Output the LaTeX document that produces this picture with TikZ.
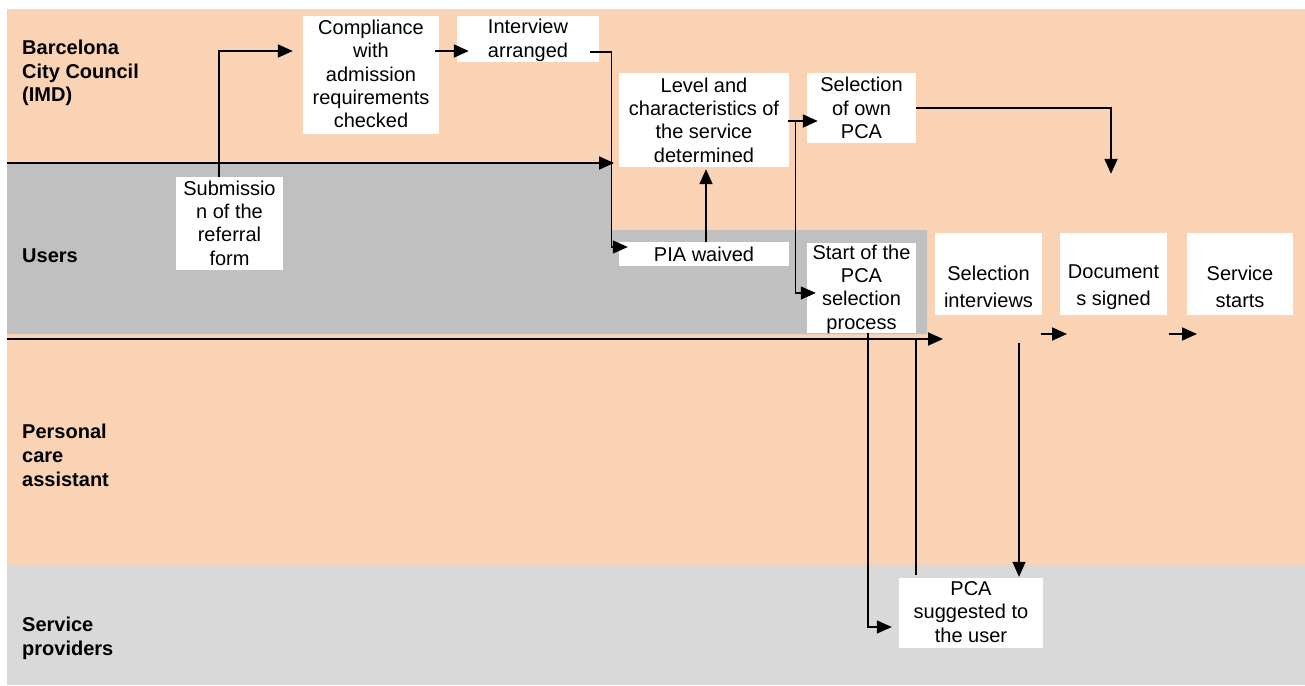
\documentclass[tikz,border=0pt]{standalone}
\usepackage{fontspec}
\setmainfont{Liberation Sans}
\usetikzlibrary{arrows.meta}
\definecolor{peach}{HTML}{FAD3B4}
\definecolor{usergrey}{HTML}{C0C0C0}
\definecolor{provgrey}{HTML}{D9D9D9}
\tikzset{
  box/.style={fill=white, draw=none, inner sep=0pt},
  txt/.style={align=center, inner sep=0pt, font=\fontsize{20}{23.4}\selectfont},
  txtwide/.style={align=center, inner sep=0pt, font=\fontsize{20}{27}\selectfont},
  lane/.style={align=left, anchor=west, inner sep=0pt, font=\bfseries\fontsize{20}{23.8}\selectfont},
  arr/.style={-{Triangle[length=15pt,width=13pt]}, line width=1.8pt},
  arrthin/.style={-{Triangle[length=15pt,width=13pt]}, line width=1.2pt},
  plain/.style={line width=1.2pt},
}
\begin{document}
\begin{tikzpicture}[x=1pt,y=-1pt]
\useasboundingbox (0,0) rectangle (1305,685);
\fill[white] (0,0) rectangle (1305,685);
% lanes
\fill[peach] (7,9) rectangle (1305,565);
\fill[usergrey] (7,163) -- (611,163) -- (611,230) -- (927,230) -- (927,334) -- (7,334) -- cycle;
\fill[provgrey] (7,565) rectangle (1305,685);
% lane labels
\node[lane] (lab1) at (22,73) {Barcelona\\City Council\\(IMD)};
\node[lane] (lab2) at (22,256) {Users};
\node[lane] (lab3) at (22,455.5) {Personal\\care\\assistant};
\node[lane] (lab4) at (22,638) {Service\\providers};
% boxes
\node[box, minimum width=136pt, minimum height=118pt] (comp) at (371,75) {};
\node[txt] at (371,74) {Compliance\\with\\admission\\requirements\\checked};
\node[box, minimum width=142pt, minimum height=46pt] (int) at (528,39) {};
\node[txt] at (528,40.5) {Interview\\arranged};
\node[box, minimum width=170pt, minimum height=94pt] (lvl) at (704,120) {};
\node[txt] at (704,120) {Level and\\characteristics of\\the service\\determined};
\node[box, minimum width=109pt, minimum height=70pt] (sel) at (861.5,108) {};
\node[txt] at (861.5,108) {Selection\\of own\\PCA};
\node[box, minimum width=107pt, minimum height=93pt] (sub) at (229.5,223.5) {};
\node[txt] at (229.5,223) {Submissio\\n of the\\referral\\form};
\node[box, minimum width=170pt, minimum height=24pt] (pia) at (704,254) {};
\node[txt] at (704,254) {PIA waived};
\node[box, minimum width=109pt, minimum height=90pt] (start) at (861.5,288) {};
\node[txt] at (861.5,289) {Start of the\\PCA\\selection\\process};
\node[box, minimum width=107pt, minimum height=82pt] (selint) at (988.5,274) {};
\node[txtwide] at (988.5,287) {Selection\\interviews};
\node[box, minimum width=107pt, minimum height=82pt] (doc) at (1113.5,274) {};
\node[txtwide] at (1113.5,287) {Document\\s signed};
\node[box, minimum width=106pt, minimum height=82pt] (serv) at (1240,274) {};
\node[txtwide] at (1240,287) {Service\\starts};
\node[box, minimum width=144pt, minimum height=70pt] (pca) at (971,613) {};
\node[txt] at (971,612) {PCA\\suggested to\\the user};
% free ends
\coordinate (a0) at (7,163);
\coordinate (a1) at (614,163);
\coordinate (h0) at (7,339);
\coordinate (h1) at (943,339);
\coordinate (i0) at (1041,334);
\coordinate (i1) at (1067,334);
\coordinate (i2) at (1169,334);
\coordinate (i3) at (1197,334);
\coordinate (k0) at (916,339);
\coordinate (l0) at (1019,343);
\coordinate (gc) at (1111,108);
% connectors
\draw[arr] (a0) -- (a1);
\draw[arr] (h0) -- (h1);
\draw[arr] ([xshift=-10.5pt]sub.north) |- ([xshift=-10pt,yshift=24pt]comp.west);
\draw[arr] ([xshift=-4pt,yshift=24pt]comp.east) -- ([xshift=12pt,yshift=-12pt]int.west);
\draw[arrthin] ([xshift=-9pt,yshift=-13pt]int.east) -- ++(21,0) |- ([xshift=9pt,yshift=7pt]pia.west);
\draw[arr] ([xshift=2pt]pia.north) -- ([xshift=2pt,yshift=-2pt]lvl.south);
\draw[arr] ([xshift=-1pt,yshift=-1pt]lvl.east) -- ([xshift=11pt,yshift=-13pt]sel.west);
\draw[arrthin] ([xshift=6pt,yshift=-1pt]lvl.east) |- ([xshift=9pt,yshift=-5pt]start.west);
\draw[plain] (sel.east) -- (gc);
\draw[arr] ([yshift=0.6pt]gc) -- ([xshift=-2.5pt,yshift=59pt]doc.north);
\draw[arrthin] ([xshift=6.5pt]start.south) |- ([xshift=-7pt,yshift=-14pt]pca.west);
\draw[plain] (k0) -- ([xshift=-55pt,yshift=3pt]pca.north);
\draw[arrthin] (l0) -- ([xshift=48pt,yshift=1pt]pca.north);
\draw[arr] (i0) -- (i1);
\draw[arr] (i2) -- (i3);
\end{tikzpicture}
\end{document}
